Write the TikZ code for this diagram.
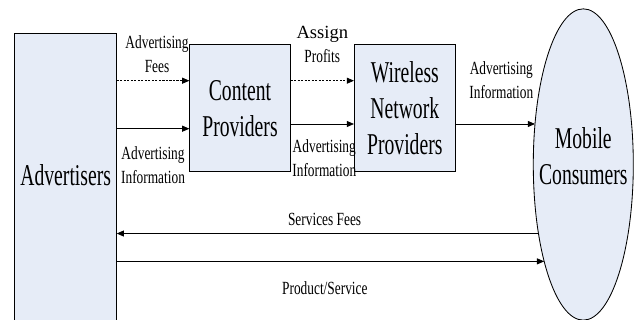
\documentclass[tikz,border=0pt]{standalone}
\usepackage{fontspec}
\setmainfont{Liberation Serif}
\newfontfamily\lblfont[FakeStretch=0.72]{Liberation Serif}
\newfontfamily\boxfont[FakeStretch=0.65]{Liberation Serif}
\usepackage{xcolor}
\usetikzlibrary{positioning,shapes.geometric,arrows.meta}

\definecolor{boxfill}{RGB}{230,236,247}

\tikzset{
  agent/.style={draw, line width=0.6pt, fill=boxfill, inner sep=0pt, outer sep=0pt,
    align=center, font=\fontsize{21.5}{25.6}\boxfont},
  flow/.style={-{Triangle[length=1.8mm,width=1.5mm]}, line width=0.6pt},
  money/.style={flow, dash pattern=on 1.5pt off 1pt},
  lbl/.style={inner sep=0pt, align=center, font=\fontsize{13.2}{17}\lblfont}
}

\begin{document}
\begin{tikzpicture}[x=0.025cm, y=-0.025cm]
  \clip (0,0) rectangle (641,320);

  % Nodes
  \node (adv) [agent, minimum width=2.55cm, minimum height=7.55cm, text depth=0.465cm] at (65.7,184) {Advertisers};
  \node (cp) [agent, minimum width=2.53cm, minimum height=3.17cm] at (240,108.3) {Content\\Providers};
  \node (wnp) [agent, minimum width=2.54cm, minimum height=3.17cm] at (404.8,108.3) {Wireless\\Network\\Providers};
  \node (mc) [agent, ellipse, inner xsep=-0.3cm, minimum width=2.5cm, minimum height=7.78cm, text depth=0.42cm] at (583.3,164.5) {Mobile\\Consumers};

  % Heights of the arrows
  \coordinate (fees) at (0,80.7);
  \coordinate (info) at (0,128.7);
  \coordinate (pass) at (0,124);

  % Arrows
  \draw[money] (adv.east |- fees) -- node[lbl, above=0.185cm, xshift=0.1cm] (feeslbl) {Advertising\\Fees} (cp.west |- fees);
  \draw[flow] (adv.east |- info) -- node[lbl, below=0.44cm] (infolbl) {Advertising\\Information} (cp.west |- info);
  \draw[money] (cp.east |- fees) -- node[lbl, above=0.45cm] (assignlbl) {{\rmfamily Assign}\\Profits} (wnp.west |- fees);
  \draw[flow] (cp.east |- pass) -- node[lbl, below=0.38cm, xshift=0.05cm] (passlbl) {Advertising\\Information} (wnp.west |- pass);
  \draw[flow] (wnp.east |- mc.140) -- node[lbl, above=0.625cm, xshift=0.15cm] (reachlbl) {Advertising\\Information} (mc.140);
  \draw[flow] (mc.237) -- node[lbl, above=0.175cm, xshift=-0.075cm] (svclbl) {Services Fees} (adv.east |- mc.237);
  \draw[flow] (adv.east |- mc.248) -- node[lbl, below=0.5cm, xshift=-0.14cm] (prodlbl) {Product/Service} (mc.248);
\end{tikzpicture}
\end{document}
